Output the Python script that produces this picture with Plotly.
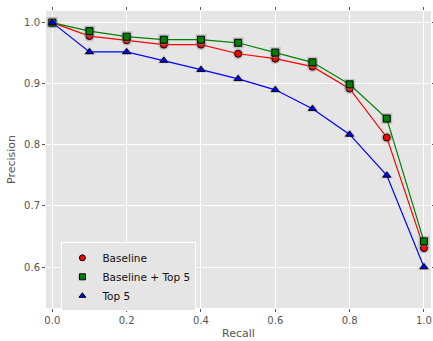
import plotly.graph_objects as go

recall = [0.0, 0.1, 0.2, 0.3, 0.4, 0.5, 0.6, 0.7, 0.8, 0.9, 1.0]
baseline = [1.0, 0.978, 0.971, 0.964, 0.964, 0.949, 0.941, 0.928, 0.892, 0.812, 0.631]
baseline_top5 = [1.0, 0.986, 0.977, 0.972, 0.972, 0.967, 0.951, 0.935, 0.899, 0.843, 0.642]
top5 = [1.0, 0.952, 0.952, 0.938, 0.923, 0.908, 0.890, 0.859, 0.817, 0.750, 0.600]

x_ticks = [0.0, 0.2, 0.4, 0.6, 0.8, 1.0]
x_labels = ["0.0", "0.2", "0.4", "0.6", "0.8", "1.0"]
y_ticks = [0.6, 0.7, 0.8, 0.9, 1.0]
y_labels = ["0.6", "0.7", "0.8", "0.9", "1.0"]

series = [
    ("Baseline", baseline, "#ff0000", "circle", 7),
    ("Baseline + Top 5", baseline_top5, "#008000", "square", 7),
    ("Top 5", top5, "#0000ff", "triangle-up", 7),
]

fig = go.Figure()
for name, vals, color, symbol, size in series:
    # soft grey halo under each marker
    fig.add_trace(go.Scatter(
        x=recall, y=vals, mode="markers", showlegend=False, hoverinfo="skip",
        marker=dict(symbol=symbol, size=size + 4, color="rgba(150,150,150,0.45)",
                    line=dict(width=0)),
    ))
    fig.add_trace(go.Scatter(
        x=recall, y=vals, mode="lines+markers", name=name, showlegend=False,
        line=dict(color=color, width=1.2),
        marker=dict(symbol=symbol, size=size, color=color,
                    line=dict(color="black", width=1)),
    ))

# invisible trace so the top/right tick axes get drawn
fig.add_trace(go.Scatter(
    x=recall, y=baseline, xaxis="x2", yaxis="y2", mode="markers",
    marker=dict(opacity=0), showlegend=False, hoverinfo="skip",
))

# marker-only legend entries
for name, vals, color, symbol, size in series:
    fig.add_trace(go.Scatter(
        x=[None], y=[None], mode="markers", name=name,
        marker=dict(symbol=symbol, size=size - 1, color=color,
                    line=dict(color="black", width=1)),
    ))

tick_style = dict(ticks="outside", ticklen=3, tickcolor="#555555", tickwidth=1)
axis_common = dict(
    showgrid=True, gridcolor="white", gridwidth=1.2, zeroline=False,
    tickfont=dict(family="DejaVu Sans", size=10, color="#555555"),
    showline=False, **tick_style,
)

fig.update_layout(
    width=433, height=341,
    margin=dict(l=46, r=2, t=11, b=33, autoexpand=False),
    paper_bgcolor="white", plot_bgcolor="#e5e5e5",
    font=dict(family="DejaVu Sans", color="#555555"),
    xaxis=dict(range=[-0.017, 1.019], tickvals=x_ticks, ticktext=x_labels,
               title=dict(text="Recall", font=dict(size=11, color="#555555"), standoff=4),
               **axis_common),
    yaxis=dict(range=[0.533, 1.019], tickvals=y_ticks, ticktext=y_labels,
               title=dict(text="Precision", font=dict(size=11, color="#555555"), standoff=6),
               **axis_common),
    # tick marks repeated along the top and right edges
    xaxis2=dict(overlaying="x", side="top", anchor="y2", range=[-0.017, 1.019],
                tickvals=x_ticks, showticklabels=False, showgrid=False,
                zeroline=False, **tick_style),
    yaxis2=dict(overlaying="y", side="right", anchor="x2", range=[0.533, 1.019],
                tickvals=y_ticks, showticklabels=False, showgrid=False,
                zeroline=False, **tick_style),
    legend=dict(x=0.04, y=0.105, xanchor="left", yanchor="middle",
                bgcolor="#e5e5e5", bordercolor="white", borderwidth=1,
                font=dict(family="DejaVu Sans", size=10.5, color="#111111"),
                tracegroupgap=0),
)

fig.write_html("out.html")
